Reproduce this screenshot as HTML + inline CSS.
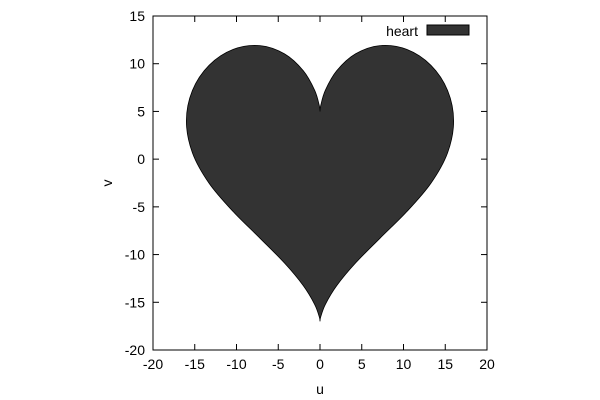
<!DOCTYPE html>
<html><head><meta charset="utf-8"><style>body{margin:0;background:#fff}svg{display:block}text{font-family:"Liberation Sans",sans-serif;font-size:14px;fill:#000}</style></head>
<body>
<svg id="chart" width="600" height="400"></svg>
<script>
const uRight=[0,0.084,0.64,2.0,4.25,7.19,10.39,13.28,15.28,16,15.28,13.28,10.39,7.19,4.25,2.0,0.64,0.084,0];
const vRight=[5,5.606,7.212,9.258,11.03,11.896,11.5,9.834,7.189,4,0.675,-2.522,-5.5,-8.28,-10.886,-13.258,-15.22,-16.534,-17];
const uLeft=[0,-0.084,-0.64,-2.0,-4.25,-7.19,-10.39,-13.28,-15.28,-16,-15.28,-13.28,-10.39,-7.19,-4.25,-2.0,-0.64,-0.084,0];
const vLeft=[-17,-16.534,-15.22,-13.258,-10.886,-8.28,-5.5,-2.522,0.675,4,7.189,9.834,11.5,11.896,11.03,9.258,7.212,5.606,5];
const xTicks=[-20,-15,-10,-5,0,5,10,15,20];
const yTicks=[-20,-15,-10,-5,0,5,10,15];
const X0=153,X1=487,Y0=16,Y1=350;
const sx=u=>X0+(u+20)/40*(X1-X0);
const sy=v=>Y0+(15-v)/35*(Y1-Y0);
const svg=document.getElementById('chart');
const NS='http://www.w3.org/2000/svg';
function mk(t,a,p){const e=document.createElementNS(NS,t);for(const k in a)e.setAttribute(k,a[k]);(p||svg).appendChild(e);return e;}
function spline(us,vs,first){
 const P=us.map((u,i)=>[sx(u),sy(vs[i])]);
 let d=first?'M'+P[0][0].toFixed(2)+','+P[0][1].toFixed(2):'';
 for(let i=0;i<P.length-1;i++){
  const p0=P[Math.max(0,i-1)],p1=P[i],p2=P[i+1],p3=P[Math.min(P.length-1,i+2)];
  const c1=[p1[0]+(p2[0]-p0[0])/6,p1[1]+(p2[1]-p0[1])/6];
  const c2=[p2[0]-(p3[0]-p1[0])/6,p2[1]-(p3[1]-p1[1])/6];
  d+='C'+c1.map(n=>n.toFixed(2)).join(',')+' '+c2.map(n=>n.toFixed(2)).join(',')+' '+p2.map(n=>n.toFixed(2)).join(',');
 }
 return d;
}
const d=spline(uRight,vRight,true)+spline(uLeft,vLeft,false)+'Z';
const heart=mk('path',{d:d,fill:'#333333',stroke:'#000','stroke-width':0.8});


const frame=mk('rect',{x:X0,y:Y0,width:X1-X0,height:Y1-Y0,fill:'none',stroke:'#000','stroke-width':1});


xTicks.forEach(t=>{const x=sx(t);
 mk('line',{x1:x,x2:x,y1:Y1,y2:Y1-6,stroke:'#000'});mk('line',{x1:x,x2:x,y1:Y0,y2:Y0+6,stroke:'#000'});
 const tx=mk('text',{x:x,y:Y1+19,'text-anchor':'middle'});tx.textContent=t;
 
 });
yTicks.forEach(t=>{const y=sy(t);
 mk('line',{x1:X0,x2:X0+6,y1:y,y2:y,stroke:'#000'});mk('line',{x1:X1,x2:X1-6,y1:y,y2:y,stroke:'#000'});
 const tx=mk('text',{x:X0-8,y:y+5,'text-anchor':'end'});tx.textContent=t;
 
 });
const xl=mk('text',{x:320,y:394,'text-anchor':'middle'});xl.textContent='u';


const yl=mk('text',{x:108,y:187,'text-anchor':'middle',transform:'rotate(-90 108 183)'});yl.textContent='v';


const lt=mk('text',{x:418,y:36,'text-anchor':'end','font-size':'15px'});lt.textContent='heart';


const lb=mk('rect',{x:427,y:25,width:42,height:10,fill:'#333333',stroke:'#000','stroke-width':1});


</script>
</body></html>
